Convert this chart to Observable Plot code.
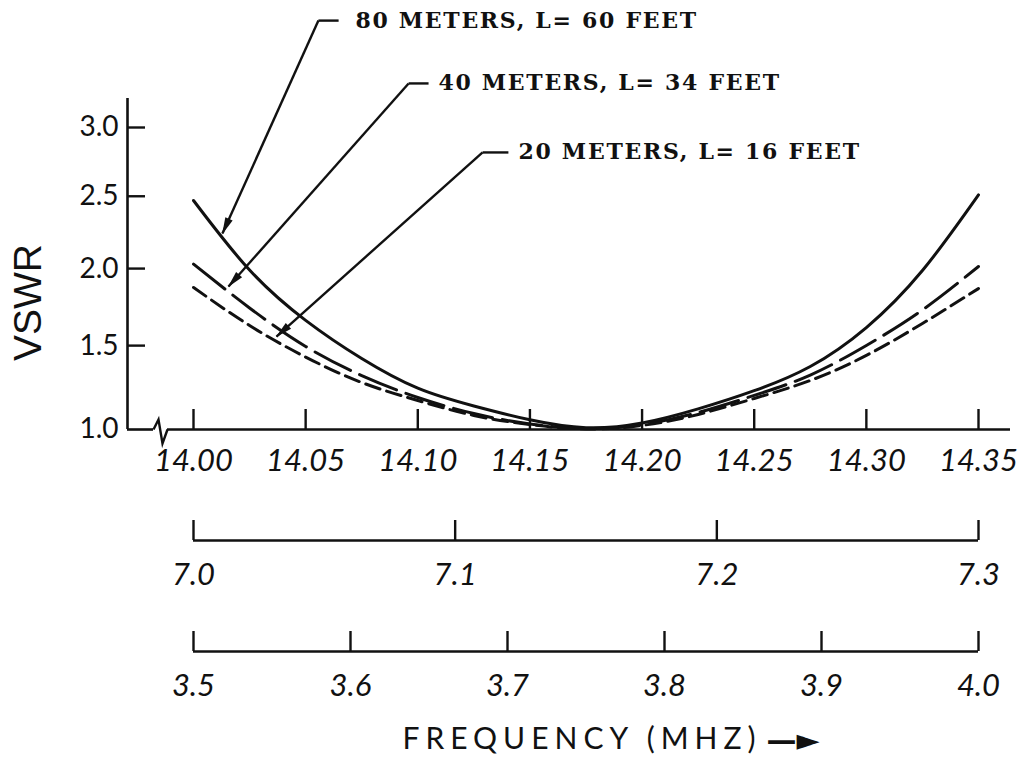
<!DOCTYPE html>
<html><head><meta charset="utf-8">
<script src="https://cdn.jsdelivr.net/npm/d3@7"></script>
<script src="https://cdn.jsdelivr.net/npm/@observablehq/plot@0.6"></script>
<style>
html,body{margin:0;padding:0;background:#fff;overflow:hidden;}
#chart svg{display:block;}
g[aria-description="note"] text{letter-spacing:1.7px;}
g[aria-description="caption"] text{letter-spacing:6px;}
</style></head><body><div id="chart"></div>
<script>
// ---- data ----
const freq20 = [14.000, 14.025, 14.050, 14.075, 14.100, 14.125, 14.150, 14.175, 14.200, 14.225, 14.250, 14.275, 14.300, 14.325, 14.350];
const vswr80m = [2.47, 1.99, 1.66, 1.42, 1.24, 1.135, 1.055, 1.01, 1.037, 1.118, 1.225, 1.371, 1.614, 1.987, 2.51];
const vswr40m = [2.03, 1.74, 1.495, 1.316, 1.185, 1.091, 1.031, 1.006, 1.028, 1.097, 1.197, 1.319, 1.501, 1.727, 2.014];
const vswr20m = [1.874, 1.627, 1.429, 1.274, 1.167, 1.080, 1.028, 1.003, 1.023, 1.086, 1.179, 1.286, 1.439, 1.640, 1.867];

const ticks20 = [14.00, 14.05, 14.10, 14.15, 14.20, 14.25, 14.30, 14.35];
const ticks40 = [7.0, 7.1, 7.2, 7.3];
const ticks80 = [3.5, 3.6, 3.7, 3.8, 3.9, 4.0];
const vswrTicks = [1.0, 1.5, 2.0, 2.5, 3.0];

const noteText = ["80 METERS, L= 60 FEET", "40 METERS, L= 34 FEET", "20 METERS, L= 16 FEET"];
const noteTipFreq = [14.0129, 14.0156, 14.0370];
const noteTipVswr = [2.239, 1.880, 1.557];
const noteElbowFreq = [14.0557, 14.0959, 14.1289];
const noteEndFreq = [14.0647, 14.1048, 14.1404];
const noteTextFreq = [14.0722, 14.1092, 14.1449];
const noteVswr = [3.820, 3.332, 2.816];

const yLabel = "VSWR";
const yLabelAt = 1.775;
const caption = "FREQUENCY (MHZ)";

// ---- build tables ----
const rows = freq20.map((f, i) => ({f, v80: vswr80m[i], v40: vswr40m[i], v20: vswr20m[i]}));
const notes = noteText.map((t, i) => ({
  t, tipF: noteTipFreq[i], tipV: noteTipVswr[i], elbowF: noteElbowFreq[i],
  endF: noteEndFreq[i], textF: noteTextFreq[i], v: noteVswr[i]
}));

// ---- styles ----
const INK = "#111";
const W = 1021;
const common = {width: W, marginLeft: 127, marginRight: 11};
const xInset = {insetLeft: 66, insetRight: 32};
const tickFont = {fontSize: 31, fontFamily: "Lato", fontStyle: "italic", fill: INK};

function arrowFill(color, context) {
  const doc = (context && context.document) || document;
  const ns = "http://www.w3.org/2000/svg";
  const m = doc.createElementNS(ns, "marker");
  m.setAttribute("viewBox", "-17 -5 18 10");
  m.setAttribute("markerWidth", 18);
  m.setAttribute("markerHeight", 10);
  m.setAttribute("markerUnits", "userSpaceOnUse");
  m.setAttribute("orient", "auto");
  m.setAttribute("fill", color);
  m.setAttribute("stroke", "none");
  const p = doc.createElementNS(ns, "path");
  p.setAttribute("d", "M1,0L-16,-4L-16,4Z");
  m.appendChild(p);
  return m;
}

const breakSymbol = {
  draw(context, size) {
    const s = Math.sqrt(size / Math.PI) / 7;
    context.moveTo(-7 * s, 0);
    context.lineTo(-2 * s, -10 * s);
    context.lineTo(2 * s, 14 * s);
    context.lineTo(7 * s, 0);
  }
};

const main = Plot.plot({
  ...common, height: 490, marginTop: 98, marginBottom: 61,
  x: {domain: [ticks20[0], ticks20[ticks20.length - 1]], ...xInset},
  y: {type: "pow", exponent: 0.75, domain: [1, 3], insetTop: 29},
  marks: [
    Plot.ruleX([ticks20[0]], {dx: -66, stroke: INK, strokeWidth: 2.6}),
    Plot.ruleY([1], {insetRight: 857, stroke: INK, strokeWidth: 2.6}),
    Plot.ruleY([1], {insetLeft: 40, stroke: INK, strokeWidth: 2.6}),
    Plot.dot([1], {x: ticks20[0], y: d => d, dx: -33, symbol: breakSymbol, r: 7, fill: "none", stroke: INK, strokeWidth: 2.4}),
    Plot.ruleX(ticks20, {insetTop: 311, stroke: INK, strokeWidth: 2.4}),
    Plot.ruleY(vswrTicks.slice(1), {insetRight: 865, stroke: INK, strokeWidth: 2.4}),
    Plot.axisX({ticks: ticks20, tickSize: 0, tickPadding: 19, tickFormat: d3.format(".2f"), label: null, ...tickFont}),
    Plot.axisY({ticks: vswrTicks, tickSize: 0, tickPadding: 9, tickFormat: d3.format(".1f"), label: null, ...tickFont, fontSize: 28, fontStyle: "normal"}),
    Plot.text([yLabel], {y: yLabelAt, frameAnchor: "left", textAnchor: "middle", lineAnchor: "middle", dx: -99, rotate: -90, fontSize: 39, fontFamily: "Liberation Sans", fill: INK}),
    Plot.line(rows, {x: "f", y: "v80", stroke: INK, strokeWidth: 3, curve: "natural"}),
    Plot.line(rows, {x: "f", y: "v40", stroke: INK, strokeWidth: 3, curve: "natural", strokeDasharray: "40,10"}),
    Plot.line(rows, {x: "f", y: "v20", stroke: INK, strokeWidth: 3, curve: "natural", strokeDasharray: "15,7"}),
    Plot.link(notes, {x1: "endF", y1: "v", x2: "elbowF", y2: "v", stroke: INK, strokeWidth: 2.4}),
    Plot.link(notes, {x1: "elbowF", y1: "v", x2: "tipF", y2: "tipV", stroke: INK, strokeWidth: 2.4, markerEnd: arrowFill}),
    Plot.text(notes, {x: "textF", y: "v", text: "t", textAnchor: "start", fontFamily: "DejaVu Serif", fontWeight: "bold", fontSize: 22, fill: INK, ariaDescription: "note"})
  ]
});

function band(ticks, fmt, height, marginTop, marginBottom, extra) {
  return Plot.plot({
    ...common, height, marginTop, marginBottom,
    x: {domain: [ticks[0], ticks[ticks.length - 1]], ...xInset},
    y: {domain: [0, 1], axis: null},
    marks: [
      Plot.ruleY([0], {x1: ticks[0], x2: ticks[ticks.length - 1], stroke: INK, strokeWidth: 2.6}),
      Plot.ruleX(ticks, {stroke: INK, strokeWidth: 2.4}),
      Plot.axisX({ticks, tickSize: 0, tickPadding: 22, tickFormat: d3.format(fmt), label: null, ...tickFont}),
      ...(extra || [])
    ]
  });
}

const band40 = band(ticks40, ".1f", 110, 30, 60);
const band80 = band(ticks80, ".1f", 161, 31, 110, [
  Plot.text([caption], {frameAnchor: "bottom", lineAnchor: "middle", dx: 13, dy: 88, fontSize: 30, fontFamily: "Lato", fill: INK, ariaDescription: "caption"}),
  Plot.text(["—►"], {frameAnchor: "bottom", lineAnchor: "middle", dx: 224, dy: 89, fontSize: 30, fontWeight: "bold", fontFamily: "DejaVu Sans", fill: INK})
]);

const root = document.getElementById("chart");
root.append(main, band40, band80);
</script></body></html>
